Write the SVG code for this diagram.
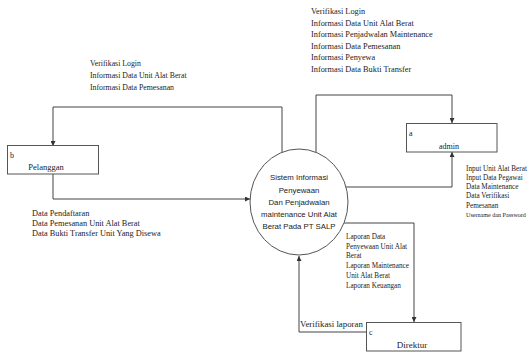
<svg xmlns="http://www.w3.org/2000/svg" width="531" height="356" viewBox="0 0 531 356">
<defs>
<marker id="arr" viewBox="0 0 10 10" refX="10" refY="5" markerWidth="5" markerHeight="5" orient="auto" markerUnits="userSpaceOnUse">
<path d="M0,0 L10,5 L0,10 z" fill="#333"/>
</marker>
</defs>
<style>
.box{fill:#fff;stroke:#555;stroke-width:1}
.ln{fill:none;stroke:#444;stroke-width:1;marker-end:url(#arr)}
.t{font-family:"Liberation Serif",serif;fill:#222}
.s{font-family:"Liberation Sans",sans-serif;fill:#222}
</style>
<rect width="531" height="356" fill="#fff"/>
<g id="connectors">
<polyline class="ln" points="282,152 282,107 53,107 53,146"/>
<polyline class="ln" points="53,174 53,199 250,199"/>
<polyline class="ln" points="316,152 316,95 452,95 452,123"/>
<polyline class="ln" points="346,187 452,187 452,152"/>
<polyline class="ln" points="344,223 414,223 414,322"/>
<polyline class="ln" points="366,332 299,332 299,256"/>
</g>
<g id="labels">
<text class="t" font-size="7.8" x="90"><tspan x="90" y="66">Verifikasi Login</tspan><tspan x="90" y="78">Informasi Data Unit Alat Berat</tspan><tspan x="90" y="90">Informasi Data Pemesanan</tspan></text>
<text class="t" font-size="8.3" x="32"><tspan x="32" y="216">Data Pendaftaran</tspan><tspan x="32" y="226">Data Pemesanan Unit Alat Berat</tspan><tspan x="32" y="236">Data Bukti Transfer Unit Yang Disewa</tspan></text>
<text class="t" font-size="8.3" x="311"><tspan x="311" y="14">Verifikasi Login</tspan><tspan x="311" y="25.5">Informasi Data Unit Alat Berat</tspan><tspan x="311" y="37">Informasi Penjadwalan Maintenance</tspan><tspan x="311" y="48.5">Informasi Data Pemesanan</tspan><tspan x="311" y="60">Informasi Penyewa</tspan><tspan x="311" y="71.5">Informasi Data Bukti Transfer</tspan></text>
<text class="t" font-size="7.2" x="466"><tspan x="466" y="170.5">Input Unit Alat Berat</tspan><tspan x="466" y="179.5">Input Data Pegawai</tspan><tspan x="466" y="188.5">Data Maintenance</tspan><tspan x="466" y="198">Data Verifikasi</tspan><tspan x="466" y="207.5">Pemesanan</tspan></text>
<text class="t" font-size="6.1" x="466" y="217">Username dan Password</text>
<text class="t" font-size="7.2" x="346"><tspan x="346" y="238.5">Laporan Data</tspan><tspan x="346" y="248.5">Penyewaan Unit Alat</tspan><tspan x="346" y="257.5">Berat</tspan><tspan x="346" y="267.5">Laporan Maintenance</tspan><tspan x="346" y="277.5">Unit Alat Berat</tspan><tspan x="346" y="287.5">Laporan Keuangan</tspan></text>
<text class="t" font-size="8.8" x="300" y="327">Verifikasi laporan</text>
</g>
<g id="pelanggan">
<rect class="box" x="7.5" y="145.5" width="91" height="28.5"/>
<text class="t" font-size="8" x="10" y="158">b</text>
<text class="t" font-size="8.5" x="46" y="170" text-anchor="middle">Pelanggan</text>
</g>
<g id="sistem">
<ellipse cx="299" cy="202" rx="49" ry="53" fill="#fff" stroke="#555" stroke-width="1"/>
<text class="s" font-size="7.8" text-anchor="middle"><tspan x="299" y="180">Sistem Informasi</tspan><tspan x="299" y="192.5">Penyewaan</tspan><tspan x="299" y="205">Dan Penjadwalan</tspan><tspan x="299" y="217">maintenance Unit Alat</tspan><tspan x="299" y="229">Berat Pada PT SALP</tspan></text>
</g>
<g id="admin">
<rect class="box" x="406.5" y="123.5" width="90.5" height="28.5"/>
<text class="t" font-size="8" x="409" y="136">a</text>
<text class="t" font-size="8" x="449" y="149" text-anchor="middle">admin</text>
</g>
<g id="direktur">
<rect class="box" x="366.5" y="322.5" width="94.5" height="28.5"/>
<text class="t" font-size="8" x="369" y="335">c</text>
<text class="t" font-size="9" x="412" y="348" text-anchor="middle">Direktur</text>
</g>
</svg>
